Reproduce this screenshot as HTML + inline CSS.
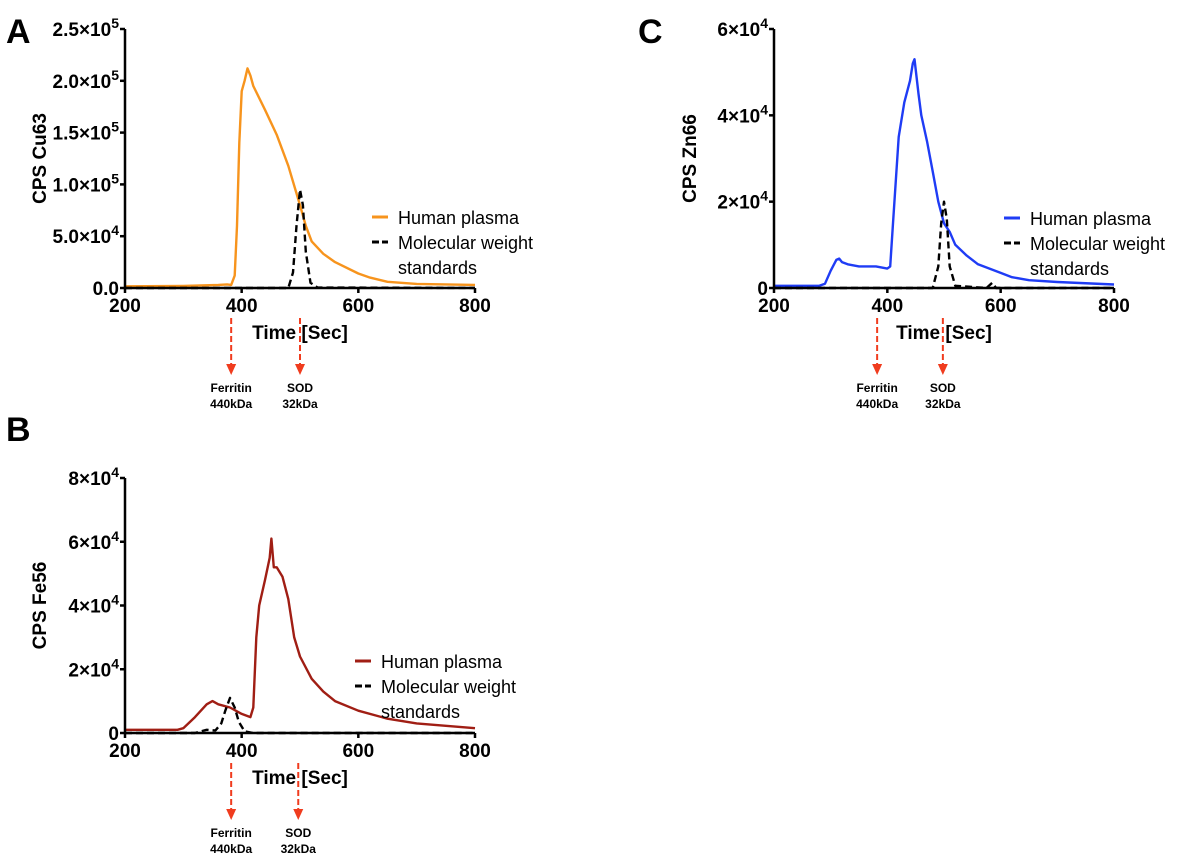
<!DOCTYPE html>
<html><head><meta charset="utf-8"><style>
body{margin:0;background:#fff;}
svg{display:block;font-family:"Liberation Sans",Arial,sans-serif;}
</style></head><body>
<svg id="chart" width="1200" height="866" viewBox="0 0 1200 866" xmlns="http://www.w3.org/2000/svg">
</svg>
<script>
// Panel A (Cu63)
const cuTimes=[200,300,360,375,382,388,392,396,400,405,410,415,420,440,460,480,500,510,520,540,560,600,620,650,700,800];
const cuPlasma=[1500,2000,3000,3500,3000,12000,60000,140000,190000,200000,212000,205000,195000,172000,148000,118000,80000,60000,45000,33000,25000,14000,10000,6000,4000,3000];
const cuStdTimes=[200,480,488,494,500,505,510,518,530,800];
const cuStd=[0,0,15000,60000,95000,80000,35000,5000,500,0];
// Panel B (Fe56)
const feTimes=[200,290,300,320,340,350,360,380,400,415,420,425,430,440,448,451,455,460,470,480,490,500,520,540,560,600,650,700,800];
const fePlasma=[1000,1000,1500,5000,9000,10000,9000,8000,6000,5000,8000,30000,40000,48000,55000,61000,52000,52000,49000,42000,30000,24000,17000,13000,10000,7000,4500,3000,1500];
const feStdTimes=[200,320,340,355,365,372,380,388,395,405,420,800];
const feStd=[0,0,1000,800,3000,7000,11000,8000,3500,500,0,0];
// Panel C (Zn66)
const znTimes=[200,280,290,300,310,315,320,330,350,380,400,405,410,420,430,440,445,448,455,460,470,480,490,500,510,520,540,560,600,620,650,700,800];
const znPlasma=[500,500,1000,4000,6500,6800,6000,5500,5000,5000,4500,5000,15000,35000,43000,48000,52000,53000,45000,40000,34000,27000,20000,15000,13000,10000,7500,5500,3500,2500,1800,1400,800];
const znStdTimes=[200,480,490,495,500,505,510,520,575,585,592,800];
const znStd=[0,0,5000,15000,20000,16000,5000,500,0,1200,0,0];
const xTicks=[200,400,600,800];
const ticksA=[0,50000,100000,150000,200000,250000], labA=["0.0","5.0×10^4","1.0×10^5","1.5×10^5","2.0×10^5","2.5×10^5"];
const ticksB=[0,20000,40000,60000,80000], labB=["0","2×10^4","4×10^4","6×10^4","8×10^4"];
const ticksC=[0,20000,40000,60000], labC=["0","2×10^4","4×10^4","6×10^4"];

const svg=document.getElementById('chart');
const NS='http://www.w3.org/2000/svg';
function mk(tag,attrs,parent){const e=document.createElementNS(NS,tag);for(const k in attrs)e.setAttribute(k,attrs[k]);(parent||svg).appendChild(e);return e;}

function panel(o){
  const g=mk('g',{});
  
  
  const sx=v=>o.x0+(v-200)/600*(o.x1-o.x0);
  const sy=v=>o.y0-v/o.ymax*(o.y0-o.yt);
  const L=mk('text',{x:o.lx,y:o.ly,'font-size':34,'font-weight':'bold'},g);L.textContent=o.letter;
  
  const line=(ts,vs,color,dash,name)=>{let d='';ts.forEach((t,i)=>{d+=(i?'L':'M')+sx(t).toFixed(1)+','+sy(vs[i]).toFixed(1);});
    const p=mk('path',{d:d,fill:'none',stroke:color,'stroke-width':2.4,'stroke-linejoin':'round'},g);if(dash)p.setAttribute('stroke-dasharray',dash);
    };
  line(o.t,o.v,o.color,null,'human-plasma-line');
  line(o.st,o.sv,'#000','7,4','mw-standards-line');
  const ax=mk('path',{d:`M${o.x0},${o.yt} V${o.y0} H${o.x1}`,fill:'none',stroke:'#000','stroke-width':2.5},g);
  
  xTicks.forEach(t=>{mk('line',{x1:sx(t),x2:sx(t),y1:o.y0,y2:o.y0+5,stroke:'#000','stroke-width':2.5},g);
    const tx=mk('text',{x:sx(t),y:o.y0+24,'font-size':19,'font-weight':'bold','text-anchor':'middle'},g);tx.textContent=t;
    });
  o.ticks.forEach((v,i)=>{mk('line',{x1:o.x0-5,x2:o.x0,y1:sy(v),y2:sy(v),stroke:'#000','stroke-width':2.5},g);
    const parts=o.labs[i].split('^');
    const tx=mk('text',{x:o.x0-6,y:sy(v)+7,'font-size':19,'font-weight':'bold','text-anchor':'end'},g);
    
    if(parts.length>1){tx.textContent=parts[0];const s=mk('tspan',{'font-size':14,dy:-8},tx);s.textContent=parts[1];}else tx.textContent=parts[0];});
  const yl=mk('text',{x:0,y:0,'font-size':19,'font-weight':'bold','text-anchor':'middle',transform:`translate(${o.yx},${(o.yt+o.y0)/2}) rotate(-90)`},g);
  yl.textContent=o.ylabel;
  const xl=mk('text',{x:(o.x0+o.x1)/2,y:o.y0+51,'font-size':19,'font-weight':'bold','text-anchor':'middle'},g);
  xl.textContent='Time [Sec]';
  const lg=mk('g',{},g);
  mk('line',{x1:o.legx,x2:o.legx+16,y1:o.legy,y2:o.legy,stroke:o.color,'stroke-width':3},lg);
  mk('line',{x1:o.legx,x2:o.legx+16,y1:o.legy+25,y2:o.legy+25,stroke:'#000','stroke-width':3,'stroke-dasharray':'7,3'},lg);
  [['Human plasma',0],['Molecular weight',25],['standards',50]].forEach(([s,d])=>{const t=mk('text',{x:o.legx+26,y:o.legy+d+7,'font-size':18},lg);t.textContent=s;});
  [[o.fer,'Ferritin','440kDa','ferritin-marker'],[o.sod,'SOD','32kDa','sod-marker']].forEach(([t,a,b,n])=>{
    const ag=mk('g',{},g);
    const x=sx(t);
    mk('line',{x1:x,x2:x,y1:o.y0+30,y2:o.y0+78,stroke:'#f03c1e','stroke-width':2,'stroke-dasharray':'6,3'},ag);
    mk('path',{d:`M${x-5},${o.y0+76} L${x+5},${o.y0+76} L${x},${o.y0+87} Z`,fill:'#f03c1e'},ag);
    const t1=mk('text',{x:x,y:o.y0+104,'font-size':12,'font-weight':'bold','text-anchor':'middle'},ag);t1.textContent=a;
    const t2=mk('text',{x:x,y:o.y0+120,'font-size':12,'font-weight':'bold','text-anchor':'middle'},ag);t2.textContent=b;});
}
panel({id:'panel-a-cu63',letter:'A',lx:6,ly:43,x0:125,x1:475,y0:288,yt:29,ymax:250000,ticks:ticksA,labs:labA,ylabel:'CPS Cu63',yx:46,
  t:cuTimes,v:cuPlasma,st:cuStdTimes,sv:cuStd,color:'#f7941d',legx:372,legy:217,fer:382,sod:500});
panel({id:'panel-b-fe56',letter:'B',lx:6,ly:441,x0:125,x1:475,y0:733,yt:478,ymax:80000,ticks:ticksB,labs:labB,ylabel:'CPS Fe56',yx:46,
  t:feTimes,v:fePlasma,st:feStdTimes,sv:feStd,color:'#a01e14',legx:355,legy:661,fer:382,sod:497});
panel({id:'panel-c-zn66',letter:'C',lx:638,ly:43,x0:774,x1:1114,y0:288,yt:29,ymax:60000,ticks:ticksC,labs:labC,ylabel:'CPS Zn66',yx:696,
  t:znTimes,v:znPlasma,st:znStdTimes,sv:znStd,color:'#1f3cf5',legx:1004,legy:218,fer:382,sod:498});
</script>
</body></html>
